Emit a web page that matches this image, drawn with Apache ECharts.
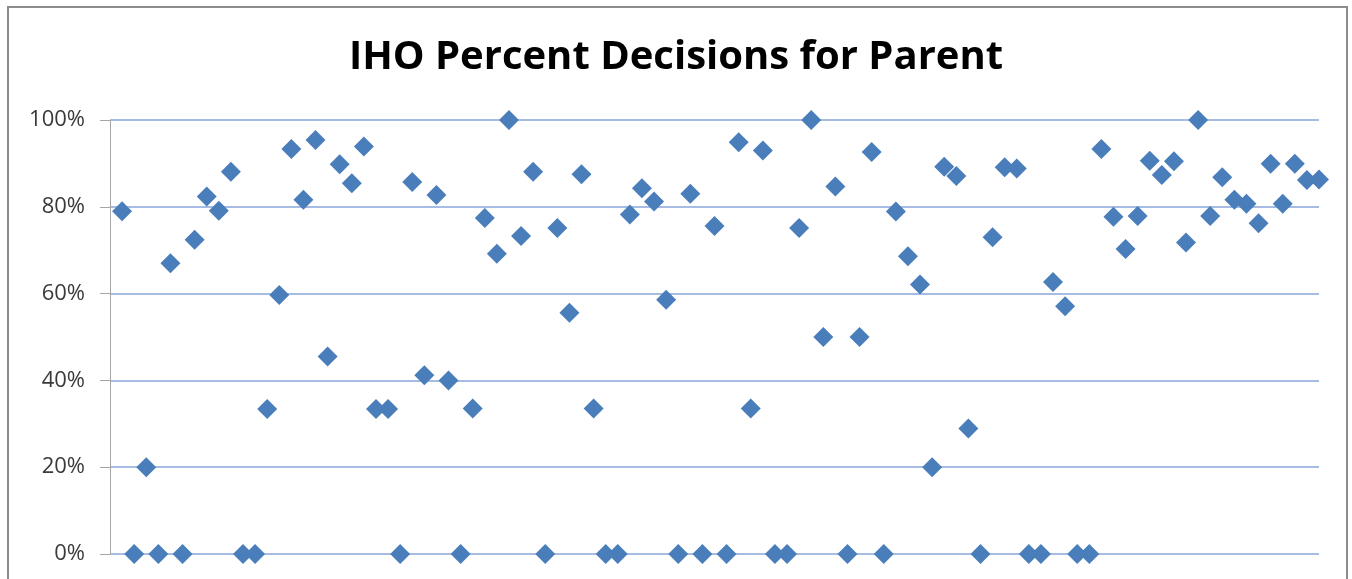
<!DOCTYPE html>
<html>
<head>
<meta charset="utf-8">
<script src="https://cdn.jsdelivr.net/npm/echarts@6/dist/echarts.min.js"></script>
<style>
  html, body { margin: 0; padding: 0; background: #fff; overflow: hidden; }
  #chart { width: 1352px; height: 579px; }
</style>
</head>
<body>
<div id="chart"></div>
<script>
// case number (1..100) and percent decided for parent
const caseIds = [];
for (let i = 1; i <= 100; i++) caseIds.push(i);

const percentForParent = [
  79, 0, 20, 0, 67, 0, 72.4, 82.4, 79.1, 88.1,
  0, 0, 33.4, 59.7, 93.3, 81.6, 95.4, 45.5, 89.8, 85.4,
  93.9, 33.4, 33.4, 0, 85.7, 41.2, 82.7, 40, 0, 33.5,
  77.4, 69.2, 100, 73.3, 88.1, 0, 75.1, 55.6, 87.5, 33.5,
  0, 0, 78.2, 84.3, 81.2, 58.6, 0, 83, 0, 75.6,
  0, 94.9, 33.5, 93, 0, 0, 75.1, 100, 50, 84.7,
  0, 50, 92.6, 0, 78.9, 68.6, 62.1, 20, 89.2, 87.1,
  28.9, 0, 73, 89.1, 88.8, 0, 0, 62.7, 57.1, 0,
  0, 93.3, 77.7, 70.3, 77.9, 90.6, 87.3, 90.5, 71.8, 100,
  77.9, 86.8, 81.6, 80.7, 76.2, 89.9, 80.7, 89.9, 86.2, 86.3
];

const yTicks = [0, 20, 40, 60, 80, 100];

const points = caseIds.map((id, i) => [id, percentForParent[i]]);

let myChart = echarts.init(document.getElementById("chart"));
myChart.setOption({
  animation: false,
  backgroundColor: '#fff',
  title: {
    text: 'IHO Percent Decisions for Parent',
    left: 'center',
    top: 33,
    textStyle: {
      fontFamily: 'Open Sans',
      fontWeight: 'bold',
      fontSize: 40,
      color: '#000'
    }
  },
  graphic: [{
    type: 'rect',
    shape: { x: 8, y: 7, width: 1339, height: 640 },
    style: { fill: 'none', stroke: '#8c8c8c', lineWidth: 2 },
    silent: true
  }],
  grid: {
    left: 110,
    right: 33,
    top: 120,
    bottom: 25
  },
  xAxis: {
    type: 'value',
    min: 0,
    max: 100,
    axisLine: { show: false },
    axisTick: { show: false },
    axisLabel: { show: false },
    splitLine: { show: false }
  },
  yAxis: {
    type: 'value',
    min: yTicks[0],
    max: yTicks[yTicks.length - 1],
    interval: 20,
    axisLine: { show: true, lineStyle: { color: '#a6a6a6', width: 1 } },
    axisTick: { show: true, length: 10, lineStyle: { color: '#a6a6a6' } },
    axisLabel: {
      margin: 25,
      fontFamily: 'Open Sans',
      fontSize: 22,
      color: '#3a3a3a',
      formatter: v => v + '%'
    },
    splitLine: { show: true, lineStyle: { color: '#88a6d8', width: 1.5 } }
  },
  series: [{
    type: 'scatter',
    data: points,
    symbol: 'diamond',
    symbolSize: 20,
    itemStyle: { color: '#4a7ebb', opacity: 1 }
  }]
});
</script>
</body>
</html>
